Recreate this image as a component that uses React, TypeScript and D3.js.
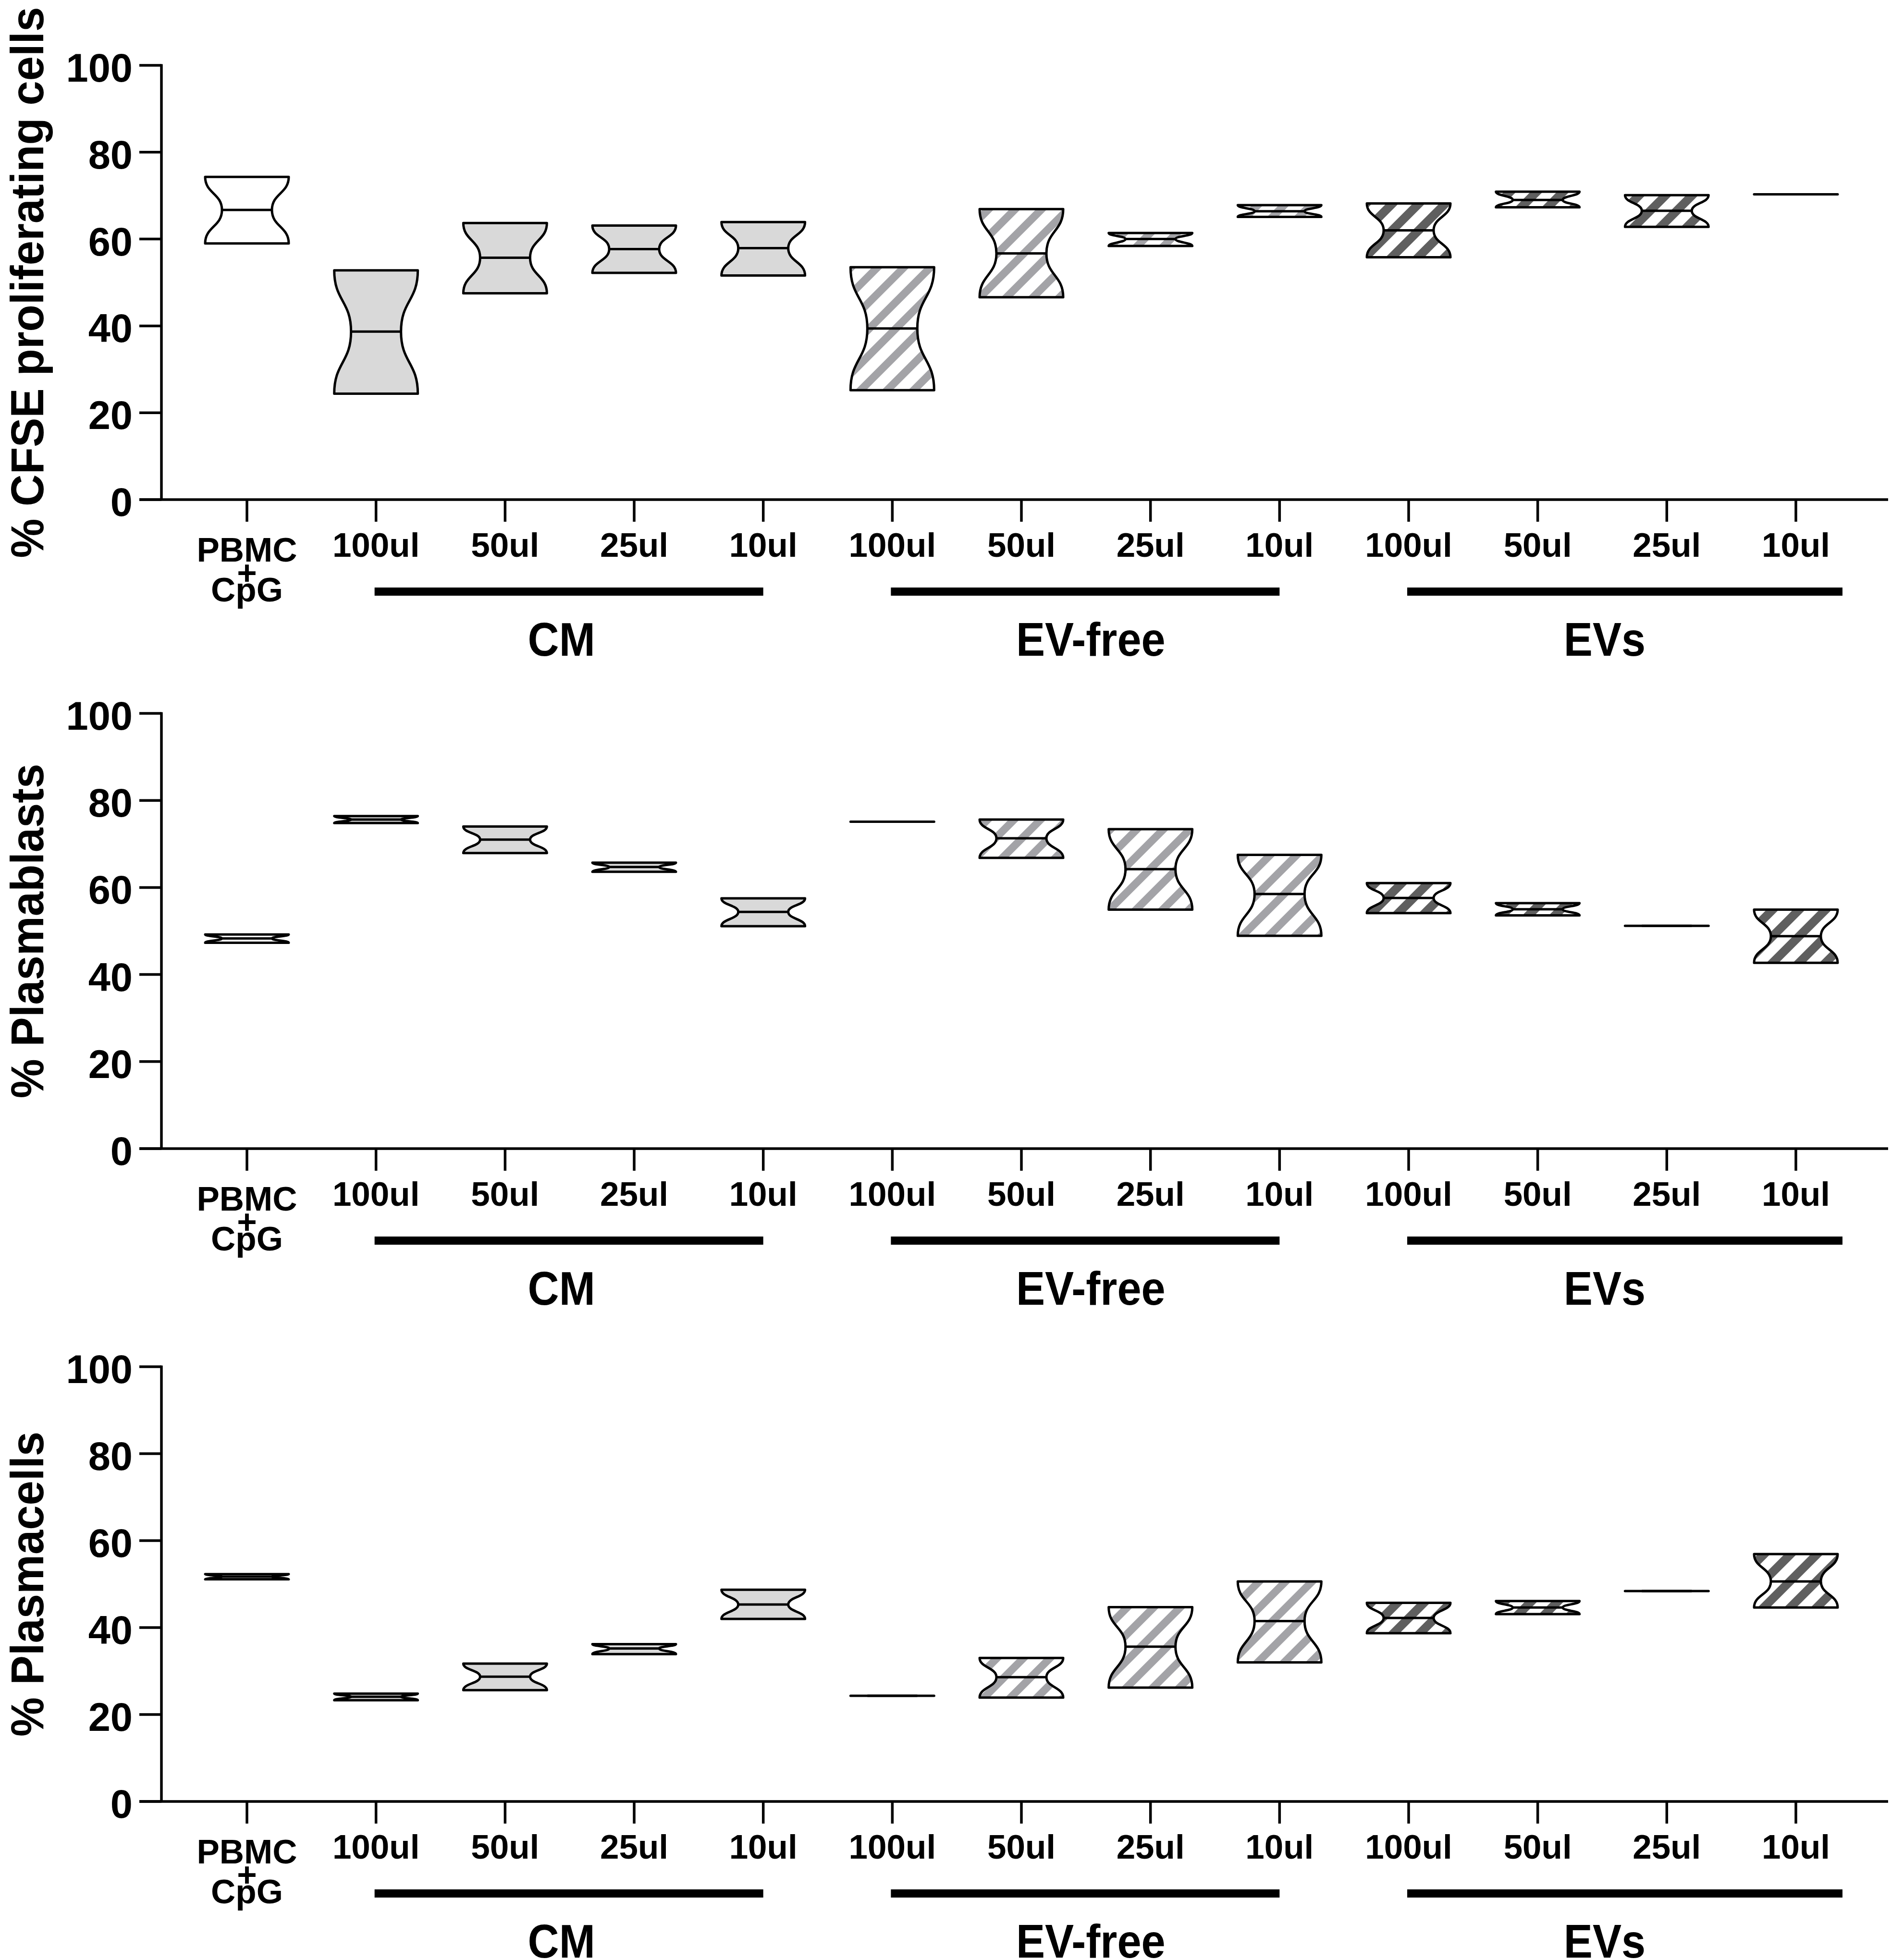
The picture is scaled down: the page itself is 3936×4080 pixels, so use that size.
import React from 'react';
import * as d3 from 'd3';

// x categories (index 0 is the control, drawn as a three-line label)
const categories = ['PBMC + CpG', '100ul', '50ul', '25ul', '10ul', '100ul', '50ul', '25ul', '10ul', '100ul', '50ul', '25ul', '10ul'];
const categoryGroup = ['control', 'CM', 'CM', 'CM', 'CM', 'EV-free', 'EV-free', 'EV-free', 'EV-free', 'EVs', 'EVs', 'EVs', 'EVs'];
const controlLines = ['PBMC', '+', 'CpG'];

const groupNames = ['CM', 'EV-free', 'EVs'];
const groupFirst = [1, 5, 9];
const groupLast = [4, 8, 12];

const yTicks = [0, 20, 40, 60, 80, 100];

// [low, median, high] per category
const cfseBoxes = [
  [59.0, 66.7, 74.3],
  [24.4, 38.7, 52.8],
  [47.5, 55.7, 63.7],
  [52.2, 57.7, 63.1],
  [51.6, 57.9, 63.9],
  [25.2, 39.4, 53.5],
  [46.6, 56.7, 66.9],
  [58.4, 60.0, 61.4],
  [65.1, 66.4, 67.8],
  [55.8, 62.0, 68.2],
  [67.3, 69.0, 70.9],
  [62.8, 66.5, 70.1],
  [70.3, 70.3, 70.3],
];

const plasmablastBoxes = [
  [47.3, 48.3, 49.2],
  [74.8, 75.6, 76.4],
  [67.9, 71.0, 74.0],
  [63.6, 64.7, 65.7],
  [51.1, 54.4, 57.5],
  [75.1, 75.1, 75.1],
  [66.8, 71.3, 75.6],
  [54.9, 64.2, 73.4],
  [48.9, 58.5, 67.5],
  [54.1, 57.6, 61.0],
  [53.6, 55.0, 56.4],
  [51.2, 51.2, 51.2],
  [42.7, 48.8, 54.9],
];

const plasmacellBoxes = [
  [51.1, 51.7, 52.3],
  [23.3, 24.1, 24.8],
  [25.6, 28.7, 31.7],
  [33.9, 35.2, 36.2],
  [42.0, 45.3, 48.7],
  [24.3, 24.3, 24.3],
  [23.9, 28.6, 33.0],
  [26.2, 35.6, 44.7],
  [32.0, 41.5, 50.6],
  [38.7, 42.2, 45.7],
  [43.1, 44.6, 46.1],
  [48.4, 48.4, 48.4],
  [44.6, 50.6, 56.9],
];

const panelTitles = ['% CFSE proliferating cells', '% Plasmablasts', '% Plasmacells'];
const panelData = [cfseBoxes, plasmablastBoxes, plasmacellBoxes];

// layout
const W = 3936;
const H = 4080;
const axisX = 336;
const panelTop = [136, 1485, 2845];
const panelBottom = [1040, 2391, 3750];
const boxHalf = 87;
const notch = 35;
const groupOverhang = [0, 0, 97];
const groupLabelShift = [-17, 10, 5];

const fills: Record<string, string> = {
  control: '#ffffff',
  CM: '#d9d9d9',
  'EV-free': 'url(#hatchLight)',
  EVs: 'url(#hatchDark)',
};

function notchedBox(cx: number, yHi: number, yMed: number, yLo: number) {
  const x0 = cx - boxHalf;
  const x1 = cx + boxHalf;
  const m1 = (yHi + yMed) / 2;
  const m2 = (yMed + yLo) / 2;
  const p = d3.path();
  p.moveTo(x0, yHi);
  p.lineTo(x1, yHi);
  p.bezierCurveTo(x1, m1, x1 - notch, m1, x1 - notch, yMed);
  p.bezierCurveTo(x1 - notch, m2, x1, m2, x1, yLo);
  p.lineTo(x0, yLo);
  p.bezierCurveTo(x0, m2, x0 + notch, m2, x0 + notch, yMed);
  p.bezierCurveTo(x0 + notch, m1, x0, m1, x0, yHi);
  p.closePath();
  return p.toString();
}

function Panel({ idx, x }: { idx: number; x: d3.ScalePoint<number> }) {
  const top = panelTop[idx];
  const bottom = panelBottom[idx];
  const y = d3.scaleLinear().domain([0, 100]).range([bottom, top]);
  const boxes = panelData[idx];
  const base = y(0);

  return (
    <g>
      {/* y title */}
      <text
        transform={`translate(90,${(top + bottom) / 2}) rotate(-90) scale(0.95,1)`}
        textAnchor="middle"
        fontSize={97}
      >
        {panelTitles[idx]}
      </text>

      {/* boxes */}
      {boxes.map((b, i) => {
        const cx = x(i) as number;
        return (
          <g key={i}>
            <path
              d={notchedBox(cx, y(b[2]), y(b[1]), y(b[0]))}
              fill={fills[categoryGroup[i]]}
              stroke="#000"
              strokeWidth={5}
              strokeLinejoin="round"
            />
            <line
              x1={cx - boxHalf + notch}
              x2={cx + boxHalf - notch}
              y1={y(b[1])}
              y2={y(b[1])}
              stroke="#000"
              strokeWidth={5}
            />
          </g>
        );
      })}

      {/* axes */}
      <line x1={axisX} x2={axisX} y1={y(100) - 2.5} y2={base} stroke="#000" strokeWidth={5.5} />
      <line x1={290} x2={3930} y1={base} y2={base} stroke="#000" strokeWidth={5.5} />
      {yTicks.map((t) => (
        <g key={t}>
          <line x1={290} x2={axisX} y1={y(t)} y2={y(t)} stroke="#000" strokeWidth={5.5} />
          <text x={276} y={y(t) + 34} textAnchor="end" fontSize={83}>
            {t}
          </text>
        </g>
      ))}
      {categories.map((c, i) => {
        const cx = x(i) as number;
        return (
          <g key={i}>
            <line x1={cx} x2={cx} y1={base} y2={base + 46} stroke="#000" strokeWidth={5.5} />
            {i === 0 ? (
              <text x={cx} y={base + 129} fontSize={71} textAnchor="middle">
                <tspan x={cx} dy={0}>{controlLines[0]}</tspan>
                <tspan x={cx} dy={48}>{controlLines[1]}</tspan>
                <tspan x={cx} dy={35}>{controlLines[2]}</tspan>
              </text>
            ) : (
              <text x={cx} y={base + 119} fontSize={71} textAnchor="middle">
                {c}
              </text>
            )}
          </g>
        );
      })}

      {/* group bars and labels */}
      {groupNames.map((g, k) => {
        const xa = (x(groupFirst[k]) as number) - 3;
        const xb = (x(groupLast[k]) as number) + groupOverhang[k];
        const mid = ((x(groupFirst[k]) as number) + (x(groupLast[k]) as number)) / 2 + groupLabelShift[k];
        return (
          <g key={g}>
            <rect x={xa} y={base + 183} width={xb - xa} height={17} fill="#000" />
            <text
              transform={`translate(${mid},${base + 325}) scale(0.92,1)`}
              textAnchor="middle"
              fontSize={98}
            >
              {g}
            </text>
          </g>
        );
      })}
    </g>
  );
}

export default function App() {
  const x = d3
    .scalePoint<number>()
    .domain(d3.range(categories.length))
    .range([514, 3738]);

  return (
    <svg
      width={W}
      height={H}
      style={{ position: 'absolute', left: 0, top: 0 }}
      fontFamily="'Liberation Sans', Arial, Helvetica, sans-serif"
      fontWeight="bold"
    >
      <defs>
        <pattern id="hatchLight" width={39} height={39} patternUnits="userSpaceOnUse" patternTransform="rotate(45)">
          <rect width={39} height={39} fill="#ffffff" />
          <rect width={16} height={39} fill="#a3a3a7" />
        </pattern>
        <pattern id="hatchDark" width={39} height={39} patternUnits="userSpaceOnUse" patternTransform="rotate(45)">
          <rect width={39} height={39} fill="#ffffff" />
          <rect width={18} height={39} fill="#5f5f5f" />
        </pattern>
      </defs>
      <rect width={W} height={H} fill="#ffffff" />
      {[0, 1, 2].map((i) => (
        <Panel key={i} idx={i} x={x} />
      ))}
    </svg>
  );
}
